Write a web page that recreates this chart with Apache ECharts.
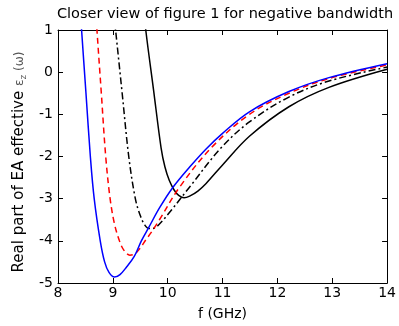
<!DOCTYPE html>
<html><head><meta charset="utf-8">
<script src="https://cdn.jsdelivr.net/npm/echarts@6/dist/echarts.min.js"></script>
<style>html,body{margin:0;padding:0;background:#fff}#c{width:399px;height:326px}</style>
</head><body><div id="c"></div>
<script>
const xTicks = [8, 9, 10, 11, 12, 13, 14];
const yTicks = [-5, -4, -3, -2, -1, 0, 1];
const blueX = [8.38, 8.43, 8.51, 8.59, 8.66, 8.77, 8.85, 8.93, 9.03, 9.13, 9.25, 9.39, 9.52, 9.66, 9.85, 10.09, 10.4, 10.7, 11.0, 11.49, 12.21, 12.94, 14.0];
const blueY = [2, 1, -0.5, -2, -3, -4, -4.5, -4.75, -4.86, -4.8, -4.62, -4.37, -4.0, -3.67, -3.22, -2.74, -2.25, -1.82, -1.45, -0.94, -0.46, -0.13, 0.2];
const redX = [8.66, 8.71, 8.79, 8.87, 8.95, 9.03, 9.12, 9.2, 9.31, 9.4, 9.5, 9.6, 9.7, 9.85, 10.21, 10.79, 11.49, 12.21, 12.94, 14.0];
const redY = [2, 1, -0.5, -2, -3, -3.6, -4.0, -4.22, -4.34, -4.31, -4.17, -3.98, -3.8, -3.5, -2.74, -1.8, -1.0, -0.5, -0.15, 0.17];
const ddX = [8.97, 9.05, 9.17, 9.29, 9.41, 9.5, 9.58, 9.66, 9.75, 9.85, 10.05, 10.39, 10.97, 11.49, 12.21, 12.94, 14.0];
const ddY = [2, 1, -0.5, -2, -3, -3.4, -3.62, -3.71, -3.7, -3.6, -3.3, -2.74, -1.8, -1.18, -0.59, -0.21, 0.12];
const blkX = [9.52, 9.6, 9.74, 9.88, 9.95, 10.03, 10.12, 10.2, 10.3, 10.4, 10.55, 10.7, 11.0, 11.49, 12.21, 12.94, 14.0];
const blkY = [2, 1, -0.4, -1.8, -2.25, -2.57, -2.8, -2.92, -2.98, -2.94, -2.82, -2.64, -2.2, -1.52, -0.82, -0.36, 0.07];

const zip = (a, b) => a.map((v, i) => [v, b[i]]);
const font = 'DejaVu Sans';
const chart = echarts.init(document.getElementById('c'), null, {renderer: 'canvas'});
const axisLine = {show: true, onZero: false, lineStyle: {color: '#000', width: 1}};
const tickIn = {show: true, inside: true, length: 5, lineStyle: {color: '#000'}};
function ser(d, color, type) {
  return {type: 'line', data: d, showSymbol: false, symbol: 'none', smooth: 0.35,
    clip: true, lineStyle: {color: color, width: 1.5, type: type}, z: 3};
}
chart.setOption({
  animation: false,
  backgroundColor: '#fff',
  title: {text: 'Closer view of figure 1 for negative bandwidth', left: 220, top: 2, textAlign: 'center',
    textStyle: {fontFamily: font, fontSize: 14.5, fontWeight: 'normal', color: '#000'}},
  grid: {left: 58, right: 11, top: 30, bottom: 39},
  xAxis: [{type: 'value', min: 8, max: 14, interval: 1, axisLine: axisLine, axisTick: tickIn, splitLine: {show: false},
    axisLabel: {fontFamily: font, fontSize: 14, color: '#000', margin: 3},
    name: 'f (GHz)', nameLocation: 'middle', nameGap: 24,
    nameTextStyle: {fontFamily: font, fontSize: 14, color: '#000'}},
    {type: 'value', position: 'top', min: 8, max: 14, interval: 1, axisLine: axisLine, axisTick: tickIn,
    axisLabel: {show: false}, splitLine: {show: false}}],
  yAxis: [{type: 'value', min: -5, max: 1, interval: 1, axisLine: axisLine, axisTick: tickIn, splitLine: {show: false},
    axisLabel: {fontFamily: font, fontSize: 14, color: '#000', margin: 5},
    name: '{a|Real part of EA effective }{b|ε}{s|z}{b| (ω)}{p|}', nameLocation: 'middle', nameGap: 30, nameRotate: 90,
    nameTextStyle: {fontFamily: font, fontSize: 15, color: '#000',
      rich: {a: {fontFamily: font, fontSize: 15, color: '#000'},
             b: {fontFamily: font, fontSize: 12, color: '#555'},
             s: {fontFamily: font, fontSize: 9, color: '#555', verticalAlign: 'bottom', padding: [8, 0, 0, 0]},
             p: {width: 11}}}},
    {type: 'value', position: 'right', min: -5, max: 1, interval: 1, axisLine: axisLine, axisTick: tickIn,
    axisLabel: {show: false}, splitLine: {show: false}}],
  series: [
    ser(zip(blkX, blkY), '#000', 'solid'),
    ser(zip(ddX, ddY), '#000', [7, 3, 2, 3]),
    ser(zip(redX, redY), '#ff0000', [6, 4]),
    ser(zip(blueX, blueY), '#0000ff', 'solid')
  ]
});
</script></body></html>
